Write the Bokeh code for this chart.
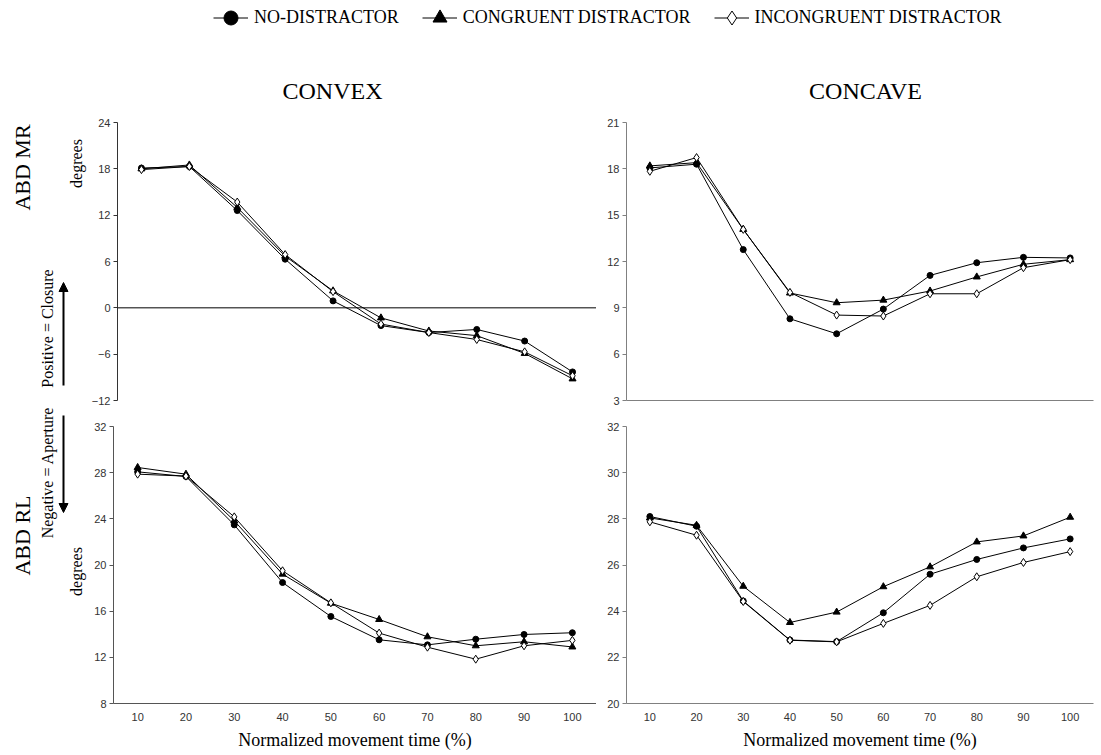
import numpy as np
from bokeh.plotting import figure
from bokeh.layouts import column, row
from bokeh.models import Range1d, FixedTicker, Span, Legend, LegendItem, Arrow, NormalHead
from bokeh.core.properties import value
from bokeh.embed import file_html
from bokeh.resources import INLINE

# ---------------- data ----------------
time_pct = [10, 20, 30, 40, 50, 60, 70, 80, 90, 100]
series_names = ["NO-DISTRACTOR", "CONGRUENT DISTRACTOR", "INCONGRUENT DISTRACTOR"]

convex_mr_none = [18.1, 18.3, 12.6, 6.3, 0.9, -2.3, -3.2, -2.8, -4.3, -8.3]
convex_mr_cong = [18.0, 18.5, 13.0, 6.7, 2.2, -1.3, -3.0, -3.6, -5.9, -9.2]
convex_mr_incong = [17.9, 18.3, 13.7, 6.9, 2.1, -2.1, -3.2, -4.1, -5.7, -8.8]

concave_mr_none = [18.06, 18.3, 12.77, 8.29, 7.32, 8.92, 11.1, 11.92, 12.27, 12.23]
concave_mr_cong = [18.19, 18.4, 14.08, 9.96, 9.33, 9.5, 10.09, 11.0, 11.82, 12.12]
concave_mr_incong = [17.84, 18.73, 14.08, 10.0, 8.53, 8.47, 9.91, 9.91, 11.6, 12.12]

convex_rl_none = [28.07, 27.67, 23.48, 18.48, 15.54, 13.52, 13.08, 13.57, 13.98, 14.13]
convex_rl_cong = [28.45, 27.87, 23.83, 19.21, 16.69, 15.28, 13.78, 13.0, 13.35, 12.9]
convex_rl_incong = [27.87, 27.7, 24.17, 19.5, 16.72, 14.1, 12.88, 11.84, 13.0, 13.47]

concave_rl_none = [28.1, 27.68, 24.44, 22.75, 22.68, 23.93, 25.6, 26.24, 26.74, 27.13]
concave_rl_cong = [28.04, 27.72, 25.08, 23.51, 23.96, 25.06, 25.92, 27.0, 27.26, 28.07]
concave_rl_incong = [27.87, 27.29, 24.42, 22.74, 22.67, 23.47, 24.25, 25.49, 26.11, 26.58]

convex_mr_ticks = [-12, -6, 0, 6, 12, 18, 24]
concave_mr_ticks = [3, 6, 9, 12, 15, 18, 21]
convex_rl_ticks = [8, 12, 16, 20, 24, 28, 32]
concave_rl_ticks = [20, 22, 24, 26, 28, 30, 32]

panel_titles = ["CONVEX", "CONCAVE"]
x_title = "Normalized movement time (%)"

SERIF = "Liberation Serif"
SANS = "Liberation Sans"

MARKERS = [("circle", "black", 6), ("triangle", "black", 7), ("diamond", "white", 8)]


def panel(w, h, yr, yticks, series, mb, axis_color, xmode):
    p = figure(width=w, height=h, x_range=Range1d(5, 105), y_range=Range1d(*yr),
               output_backend="svg", toolbar_location=None,
               min_border_left=mb[0], min_border_right=mb[1],
               min_border_top=mb[2], min_border_bottom=mb[3])
    p.outline_line_color = None
    p.xgrid.visible = False
    p.ygrid.visible = False
    yax = p.yaxis[0]
    yax.ticker = FixedTicker(ticks=yticks)
    yax.minor_tick_line_color = None
    yax.major_tick_in = 0
    yax.major_tick_out = 4
    yax.axis_line_color = axis_color
    yax.major_tick_line_color = axis_color
    yax.major_label_text_font = SANS
    yax.major_label_text_font_size = "11px"
    yax.major_label_text_color = "#333333"
    yax.major_label_standoff = 3
    xax = p.xaxis[0]
    if xmode == "zero":
        xax.visible = False
        p.add_layout(Span(location=0, dimension="width", line_color="black", line_width=1))
    elif xmode == "line":
        xax.ticker = FixedTicker(ticks=[])
        xax.axis_line_color = axis_color
    else:
        xax.ticker = FixedTicker(ticks=time_pct)
        xax.major_tick_in = 0
        xax.major_tick_out = 0
        xax.axis_line_color = axis_color
        xax.major_label_text_font = SANS
        xax.major_label_text_font_size = "11px"
        xax.major_label_text_color = "#333333"
        xax.major_label_standoff = 9
        xax.axis_label = x_title
        xax.axis_label_text_font = SERIF
        xax.axis_label_text_font_size = "18px"
        xax.axis_label_text_font_style = "normal"
        xax.axis_label_text_color = "black"
        xax.axis_label_standoff = 6
    for ys in series:
        p.line(time_pct, ys, line_color="black", line_width=1)
    for ys, (mk, fill, size) in zip(series, MARKERS):
        p.scatter(time_pct, ys, marker=mk, size=size, fill_color=fill,
                  line_color="black", line_width=1)
    return p


tl = panel(508, 301, (-12, 24), convex_mr_ticks,
           [convex_mr_none, convex_mr_cong, convex_mr_incong],
           (25, 0, 10, 13), "#333333", "zero")
tr = panel(505, 301, (3, 21), concave_mr_ticks,
           [concave_mr_none, concave_mr_cong, concave_mr_incong],
           (30, 8, 10, 13), "#808080", "line")
bl = panel(508, 342, (8, 32), convex_rl_ticks,
           [convex_rl_none, convex_rl_cong, convex_rl_incong],
           (25, 0, 13, 52), "#555555", "labels")
br = panel(505, 342, (20, 32), concave_rl_ticks,
           [concave_rl_none, concave_rl_cong, concave_rl_incong],
           (30, 8, 13, 52), "#808080", "labels")

# ---------------- header: legend + panel titles ----------------
hdr = figure(width=1101, height=112, x_range=Range1d(0, 1101), y_range=Range1d(112, 0),
             output_backend="svg", toolbar_location=None, min_border=0)
hdr.axis.visible = False
hdr.grid.visible = False
hdr.outline_line_color = None
items = []
for name, (mk, fill, size) in zip(series_names, MARKERS):
    rl = hdr.line(x=[np.nan], y=[np.nan], line_color="black", line_width=1)
    rs = hdr.scatter(x=[np.nan], y=[np.nan], marker=mk, size=size, fill_color=fill,
                     line_color="black", line_width=1)
    items.append(LegendItem(label=name, renderers=[rl, rs]))
leg = Legend(items=items, orientation="horizontal", location=(213, 77),
             label_text_font=SERIF, label_text_font_size="18px", label_text_color="black",
             glyph_width=35, glyph_height=35, label_standoff=6, spacing=23,
             border_line_color=None, background_fill_alpha=0, padding=0, margin=0)
hdr.add_layout(leg)
hdr.text(x=[332, 865], y=[90, 90], text=panel_titles, text_font=value(SERIF),
         text_font_size="24px", text_align="center", text_baseline="middle", text_color="black")

# ---------------- left side labels ----------------
lab = figure(width=88, height=643, x_range=Range1d(0, 88), y_range=Range1d(755, 112),
             output_backend="svg", toolbar_location=None, min_border=0)
lab.axis.visible = False
lab.grid.visible = False
lab.outline_line_color = None
lab.text(x=[22, 22], y=[167, 535], text=["ABD MR", "ABD RL"], angle=np.pi / 2,
         text_font=value(SERIF), text_font_size="22px", text_align="center",
         text_baseline="middle", text_color="black")
lab.text(x=[47, 47], y=[328, 472], text=["Positive = Closure", "Negative = Aperture"],
         angle=np.pi / 2, text_font=value(SERIF), text_font_size="16px",
         text_align="center", text_baseline="middle", text_color="black")
lab.text(x=[76, 76], y=[163, 571], text=["degrees", "degrees"], angle=np.pi / 2,
         text_font=value(SERIF), text_font_size="16px", text_align="center",
         text_baseline="middle", text_color="black")
lab.add_layout(Arrow(end=NormalHead(size=9, fill_color="black", line_color="black"),
                     x_start=63, y_start=385, x_end=63, y_end=282,
                     line_color="black", line_width=2))
lab.add_layout(Arrow(end=NormalHead(size=9, fill_color="black", line_color="black"),
                     x_start=63, y_start=415, x_end=63, y_end=512,
                     line_color="black", line_width=2))

layout = column(hdr, row(lab, column(row(tl, tr), row(bl, br))))

open("out.html", "w").write(file_html(layout, INLINE))
